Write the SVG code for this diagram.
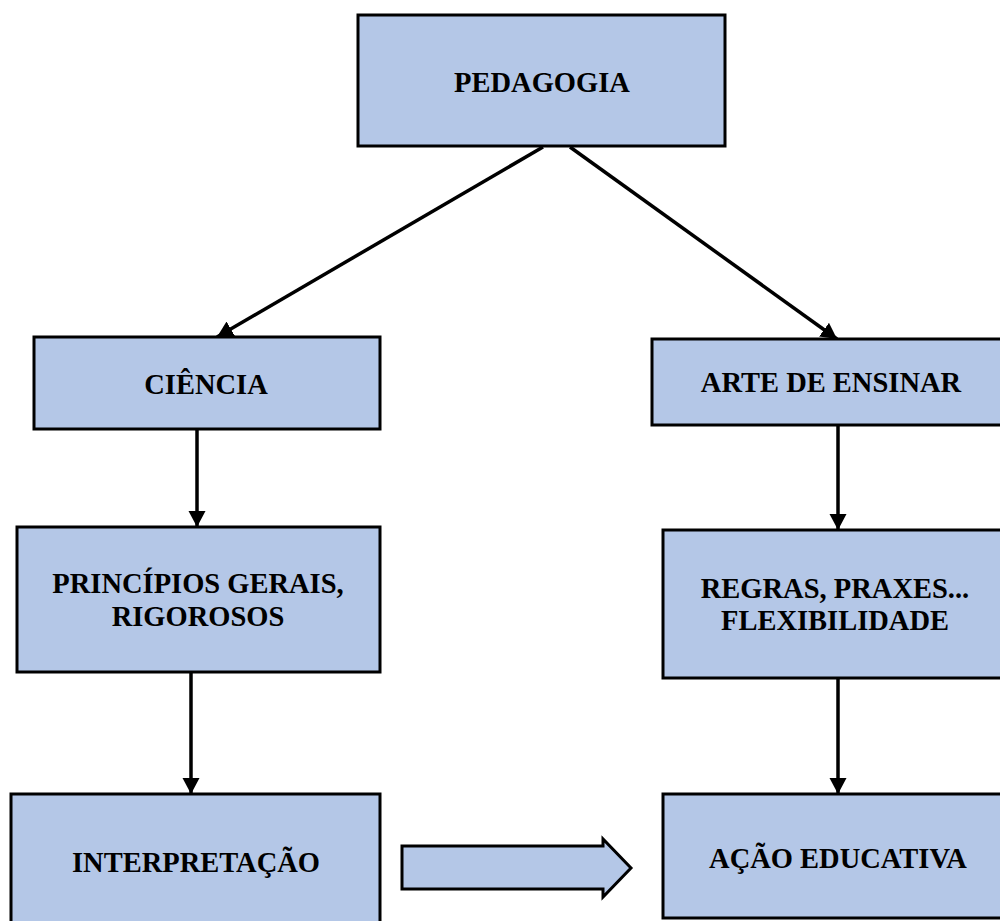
<svg xmlns="http://www.w3.org/2000/svg" width="1000" height="921" viewBox="0 0 1000 921">
<style>
.box{fill:#B4C7E7;stroke:#000;stroke-width:3}
.lbl{font-family:"Liberation Serif","Times New Roman",serif;font-weight:bold;font-size:28.5px;fill:#000;text-anchor:middle}
.con{stroke:#000;stroke-width:3.5;fill:none}
</style>
<defs>
<marker id="ah" markerUnits="userSpaceOnUse" markerWidth="20" markerHeight="20" refX="16" refY="8.5" orient="auto">
<path d="M0,0 L16,8.5 L0,17 Z" fill="#000"/>
</marker>
</defs>
<rect width="1000" height="921" fill="#fff"/>
<g id="connectors">
<line class="con" x1="543" y1="147" x2="217" y2="337" marker-end="url(#ah)"/>
<line class="con" x1="570" y1="147" x2="837" y2="339" marker-end="url(#ah)"/>
<line class="con" x1="197" y1="430" x2="197" y2="527" marker-end="url(#ah)"/>
<line class="con" x1="191" y1="672" x2="191" y2="794" marker-end="url(#ah)"/>
<line class="con" x1="838" y1="426" x2="838" y2="530" marker-end="url(#ah)"/>
<line class="con" x1="838" y1="679" x2="838" y2="794" marker-end="url(#ah)"/>
<path id="block-arrow" d="M402,846 L603,846 L603,839 L631,868 L603,897 L603,889 L402,889 Z" fill="#B4C7E7" stroke="#000" stroke-width="3"/>
</g>
<g id="pedagogia">
<rect class="box" x="358" y="15" width="367" height="131"/>
<text class="lbl" x="542" y="92">PEDAGOGIA</text>
</g>
<g id="ciencia">
<rect class="box" x="34" y="337" width="346" height="92"/>
<text class="lbl" x="206" y="394">CIÊNCIA</text>
</g>
<g id="principios">
<rect class="box" x="17" y="527" width="363" height="145"/>
<text class="lbl" x="198" y="593">PRINCÍPIOS GERAIS,</text>
<text class="lbl" x="198" y="626">RIGOROSOS</text>
</g>
<g id="interpretacao">
<rect class="box" x="11" y="794" width="369" height="140"/>
<text class="lbl" x="196" y="872">INTERPRETAÇÃO</text>
</g>
<g id="arte">
<rect class="box" x="652" y="339" width="360" height="86"/>
<text class="lbl" x="831" y="392">ARTE DE ENSINAR</text>
</g>
<g id="regras">
<rect class="box" x="663" y="530" width="350" height="148"/>
<text class="lbl" x="835" y="598">REGRAS, PRAXES...</text>
<text class="lbl" x="835" y="630">FLEXIBILIDADE</text>
</g>
<g id="acao">
<rect class="box" x="663" y="794" width="350" height="124"/>
<text class="lbl" x="838" y="868">AÇÃO EDUCATIVA</text>
</g>
</svg>
